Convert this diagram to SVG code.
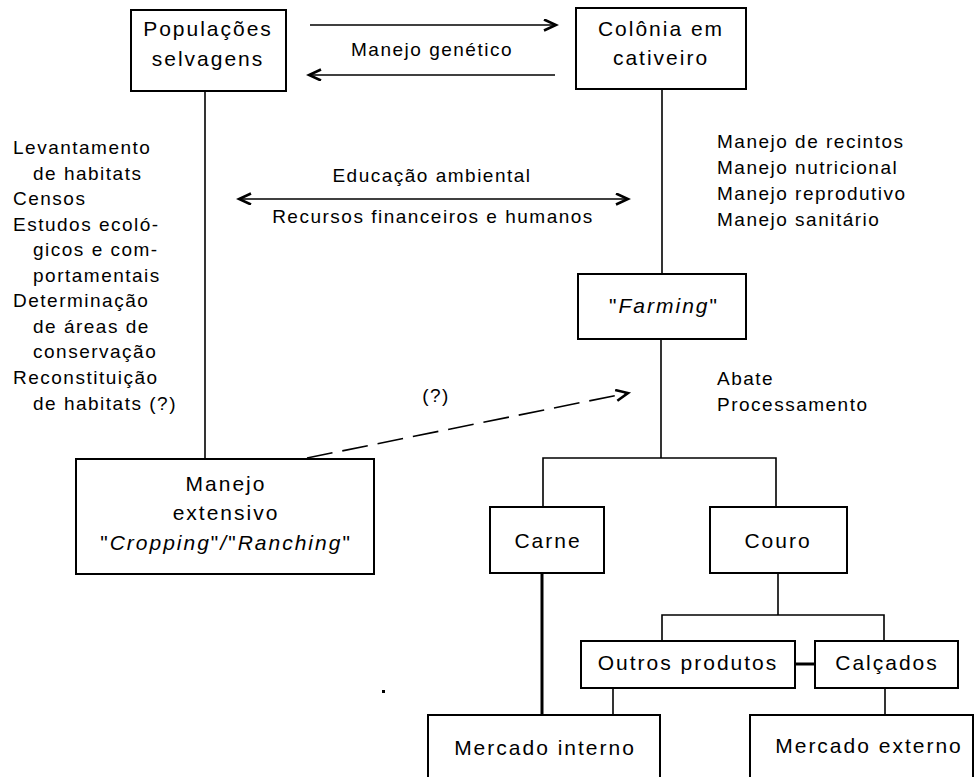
<svg xmlns="http://www.w3.org/2000/svg" width="976" height="777" viewBox="0 0 976 777">
<defs>
<style>
.box{fill:#fff;stroke:#000;stroke-width:2}
.ln{fill:none;stroke:#000;stroke-width:1.6}
.thk{fill:none;stroke:#000;stroke-width:3}
.bl{font-family:"Liberation Sans",Arial,sans-serif;font-size:21px;letter-spacing:2px;fill:#000;text-anchor:middle}
.sl{font-family:"Liberation Sans",Arial,sans-serif;font-size:19px;letter-spacing:1.5px;fill:#000}
.it{font-style:italic}
</style>
<marker id="ah" markerUnits="userSpaceOnUse" markerWidth="16" markerHeight="14" refX="13" refY="6" orient="auto-start-reverse" viewBox="0 0 16 14">
<path d="M1,0.5 L13,6 L1,11.5" fill="none" stroke="#000" stroke-width="2.6"/>
</marker>
</defs>
<rect width="976" height="777" fill="#fff"/>

<g id="connectors">
<line class="ln" x1="310" y1="25" x2="556" y2="25" marker-end="url(#ah)" stroke-width="2"/>
<line class="ln" x1="555" y1="75" x2="309" y2="75" marker-end="url(#ah)" stroke-width="2"/>
<line class="ln" x1="239" y1="199" x2="628" y2="199" marker-start="url(#ah)" marker-end="url(#ah)" stroke-width="2"/>
<line class="ln" x1="205" y1="91" x2="205" y2="459"/>
<line class="ln" x1="662" y1="89" x2="662" y2="274"/>
<line class="ln" x1="661" y1="339" x2="661" y2="458"/>
<path class="ln" d="M307,458 L628,393" stroke-width="2.4" stroke-dasharray="26 10" marker-end="url(#ah)"/>
<polyline class="ln" points="543,507 543,458 776,458 776,507" stroke-width="2"/>
<line class="thk" x1="542" y1="573" x2="542" y2="715"/>
<line class="ln" x1="778" y1="573" x2="778" y2="615"/>
<polyline class="ln" points="662,641 662,615 884,615 884,641" stroke-width="2"/>
<line class="thk" x1="795" y1="664" x2="815" y2="664"/>
<line class="ln" x1="613" y1="688" x2="613" y2="715"/>
<line class="ln" x1="885" y1="688" x2="885" y2="715"/>
</g>

<g id="n-populacoes">
<rect class="box" x="131" y="10" width="155" height="81"/>
<text class="bl" x="208" y="36">Populações</text>
<text class="bl" x="208" y="66">selvagens</text>
</g>
<g id="n-colonia">
<rect class="box" x="576" y="8" width="170" height="81"/>
<text class="bl" x="661" y="36">Colônia em</text>
<text class="bl" x="661" y="65">cativeiro</text>
</g>
<g id="n-farming">
<rect class="box" x="578" y="274" width="168" height="65"/>
<text class="bl" x="664" y="313">"<tspan class="it">Farming</tspan>"</text>
</g>
<g id="n-extensivo">
<rect class="box" x="76" y="459" width="298" height="115"/>
<text class="bl" x="226" y="491">Manejo</text>
<text class="bl" x="226" y="520">extensivo</text>
<text class="bl" x="226" y="550">"<tspan class="it">Cropping</tspan>"<tspan class="it">/</tspan>"<tspan class="it">Ranching</tspan>"</text>
</g>
<g id="n-carne">
<rect class="box" x="490" y="507" width="114" height="66"/>
<text class="bl" x="548" y="548">Carne</text>
</g>
<g id="n-couro">
<rect class="box" x="710" y="507" width="137" height="66"/>
<text class="bl" x="778" y="548">Couro</text>
</g>
<g id="n-outros">
<rect class="box" x="581" y="641" width="214" height="47"/>
<text class="bl" x="688" y="670">Outros produtos</text>
</g>
<g id="n-calcados">
<rect class="box" x="815" y="641" width="143" height="47"/>
<text class="bl" x="887" y="670">Calçados</text>
</g>
<g id="n-mercado-interno">
<rect class="box" x="428" y="715" width="232" height="80"/>
<text class="bl" x="545" y="755">Mercado interno</text>
</g>
<g id="n-mercado-externo">
<rect class="box" x="750" y="715" width="223" height="80"/>
<text class="bl" x="869" y="753">Mercado externo</text>
</g>

<g id="labels">
<text class="sl" x="432" y="56" text-anchor="middle">Manejo genético</text>
<text class="sl" x="432" y="182" text-anchor="middle">Educação ambiental</text>
<text class="sl" x="433" y="223" text-anchor="middle">Recursos financeiros e humanos</text>
<text class="sl" x="436" y="402" text-anchor="middle" font-size="21">(?)</text>
<text class="sl" x="717" y="148">Manejo de recintos</text>
<text class="sl" x="717" y="174">Manejo nutricional</text>
<text class="sl" x="717" y="200">Manejo reprodutivo</text>
<text class="sl" x="717" y="226">Manejo sanitário</text>
<text class="sl" x="717" y="385">Abate</text>
<text class="sl" x="717" y="411">Processamento</text>
<text class="sl" x="13" y="154">Levantamento</text>
<text class="sl" x="33" y="180">de habitats</text>
<text class="sl" x="13" y="205">Censos</text>
<text class="sl" x="13" y="231">Estudos ecoló-</text>
<text class="sl" x="33" y="256">gicos e com-</text>
<text class="sl" x="33" y="282">portamentais</text>
<text class="sl" x="13" y="307">Determinação</text>
<text class="sl" x="33" y="333">de áreas de</text>
<text class="sl" x="33" y="358">conservação</text>
<text class="sl" x="13" y="384">Reconstituição</text>
<text class="sl" x="33" y="410">de habitats (?)</text>
</g>
<rect x="382" y="690" width="3" height="3" fill="#000"/>
</svg>
